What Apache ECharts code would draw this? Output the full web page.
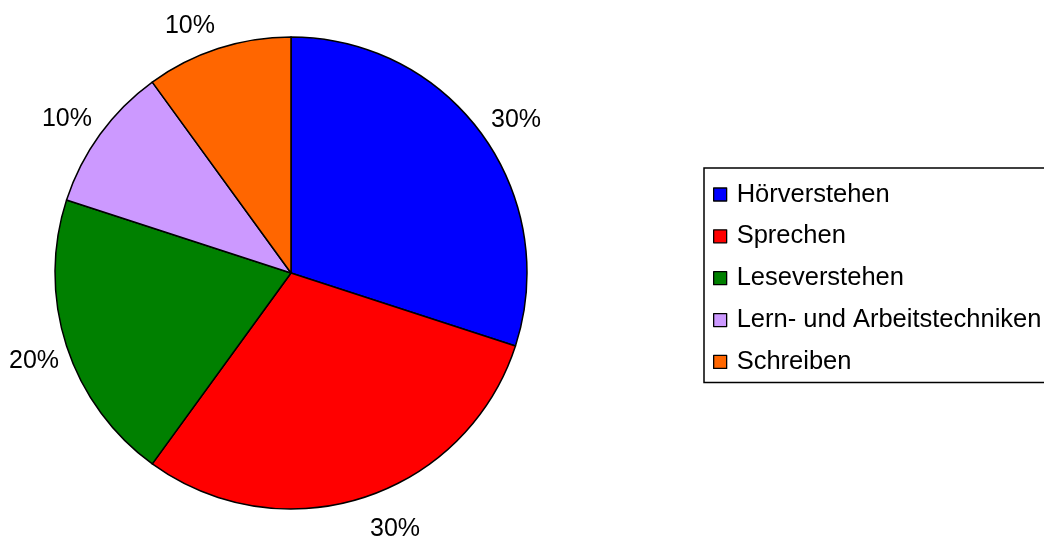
<!DOCTYPE html>
<html><head><meta charset="utf-8">
<script src="https://cdn.jsdelivr.net/npm/echarts@6/dist/echarts.min.js"></script>
<style>html,body{margin:0;padding:0;background:#fff}#c{width:1044px;height:539px}</style>
</head><body><div id="c"></div>
<script>
const categories = ["Hörverstehen", "Sprechen", "Leseverstehen", "Lern- und Arbeitstechniken", "Schreiben"];
const values = [30, 30, 20, 10, 10];
const colors = ["#0000FF", "#FF0000", "#008000", "#CC99FF", "#FF6600"];
// small style nudges for the outside labels (Excel-like placement)
const labelNudges = [[-4, -8], [-2, 22], [7, 12], [5, -9], [5, -13]];

const FONT = 'Liberation Sans, Arial, sans-serif';
const chart = echarts.init(document.getElementById('c'), null, {renderer: 'canvas'});
chart.setOption({
  animation: false,
  backgroundColor: '#ffffff',
  legend: {
    orient: 'vertical',
    left: 704, top: 168,
    padding: [13.5, 14, 7.5, 9],
    borderColor: '#000', borderWidth: 1.5,
    itemWidth: 13, itemHeight: 13, itemGap: 15.85,
    icon: 'rect',
    itemStyle: {borderColor: '#000', borderWidth: 1.3},
    textStyle: {fontFamily: FONT, fontSize: 25.5, color: '#000', lineHeight: 25, padding: [0, 0, 0, 5]},
    data: categories
  },
  series: [{
    type: 'pie',
    center: [291, 273],
    radius: 236,
    startAngle: 90,
    clockwise: true,
    avoidLabelOverlap: false,
    data: categories.map((n, i) => ({name: n, value: values[i], itemStyle: {color: colors[i]}})),
    itemStyle: {borderColor: '#000', borderWidth: 1.5},
    label: {
      show: true, position: 'outside', overflow: 'none',
      formatter: p => Math.round(p.percent) + '%',
      fontFamily: FONT, fontSize: 25, color: '#000'
    },
    labelLine: {show: false, length: 10, length2: 0},
    labelLayout: p => ({dx: labelNudges[p.dataIndex][0], dy: labelNudges[p.dataIndex][1]}),
    emphasis: {disabled: true}
  }]
});
</script></body></html>
